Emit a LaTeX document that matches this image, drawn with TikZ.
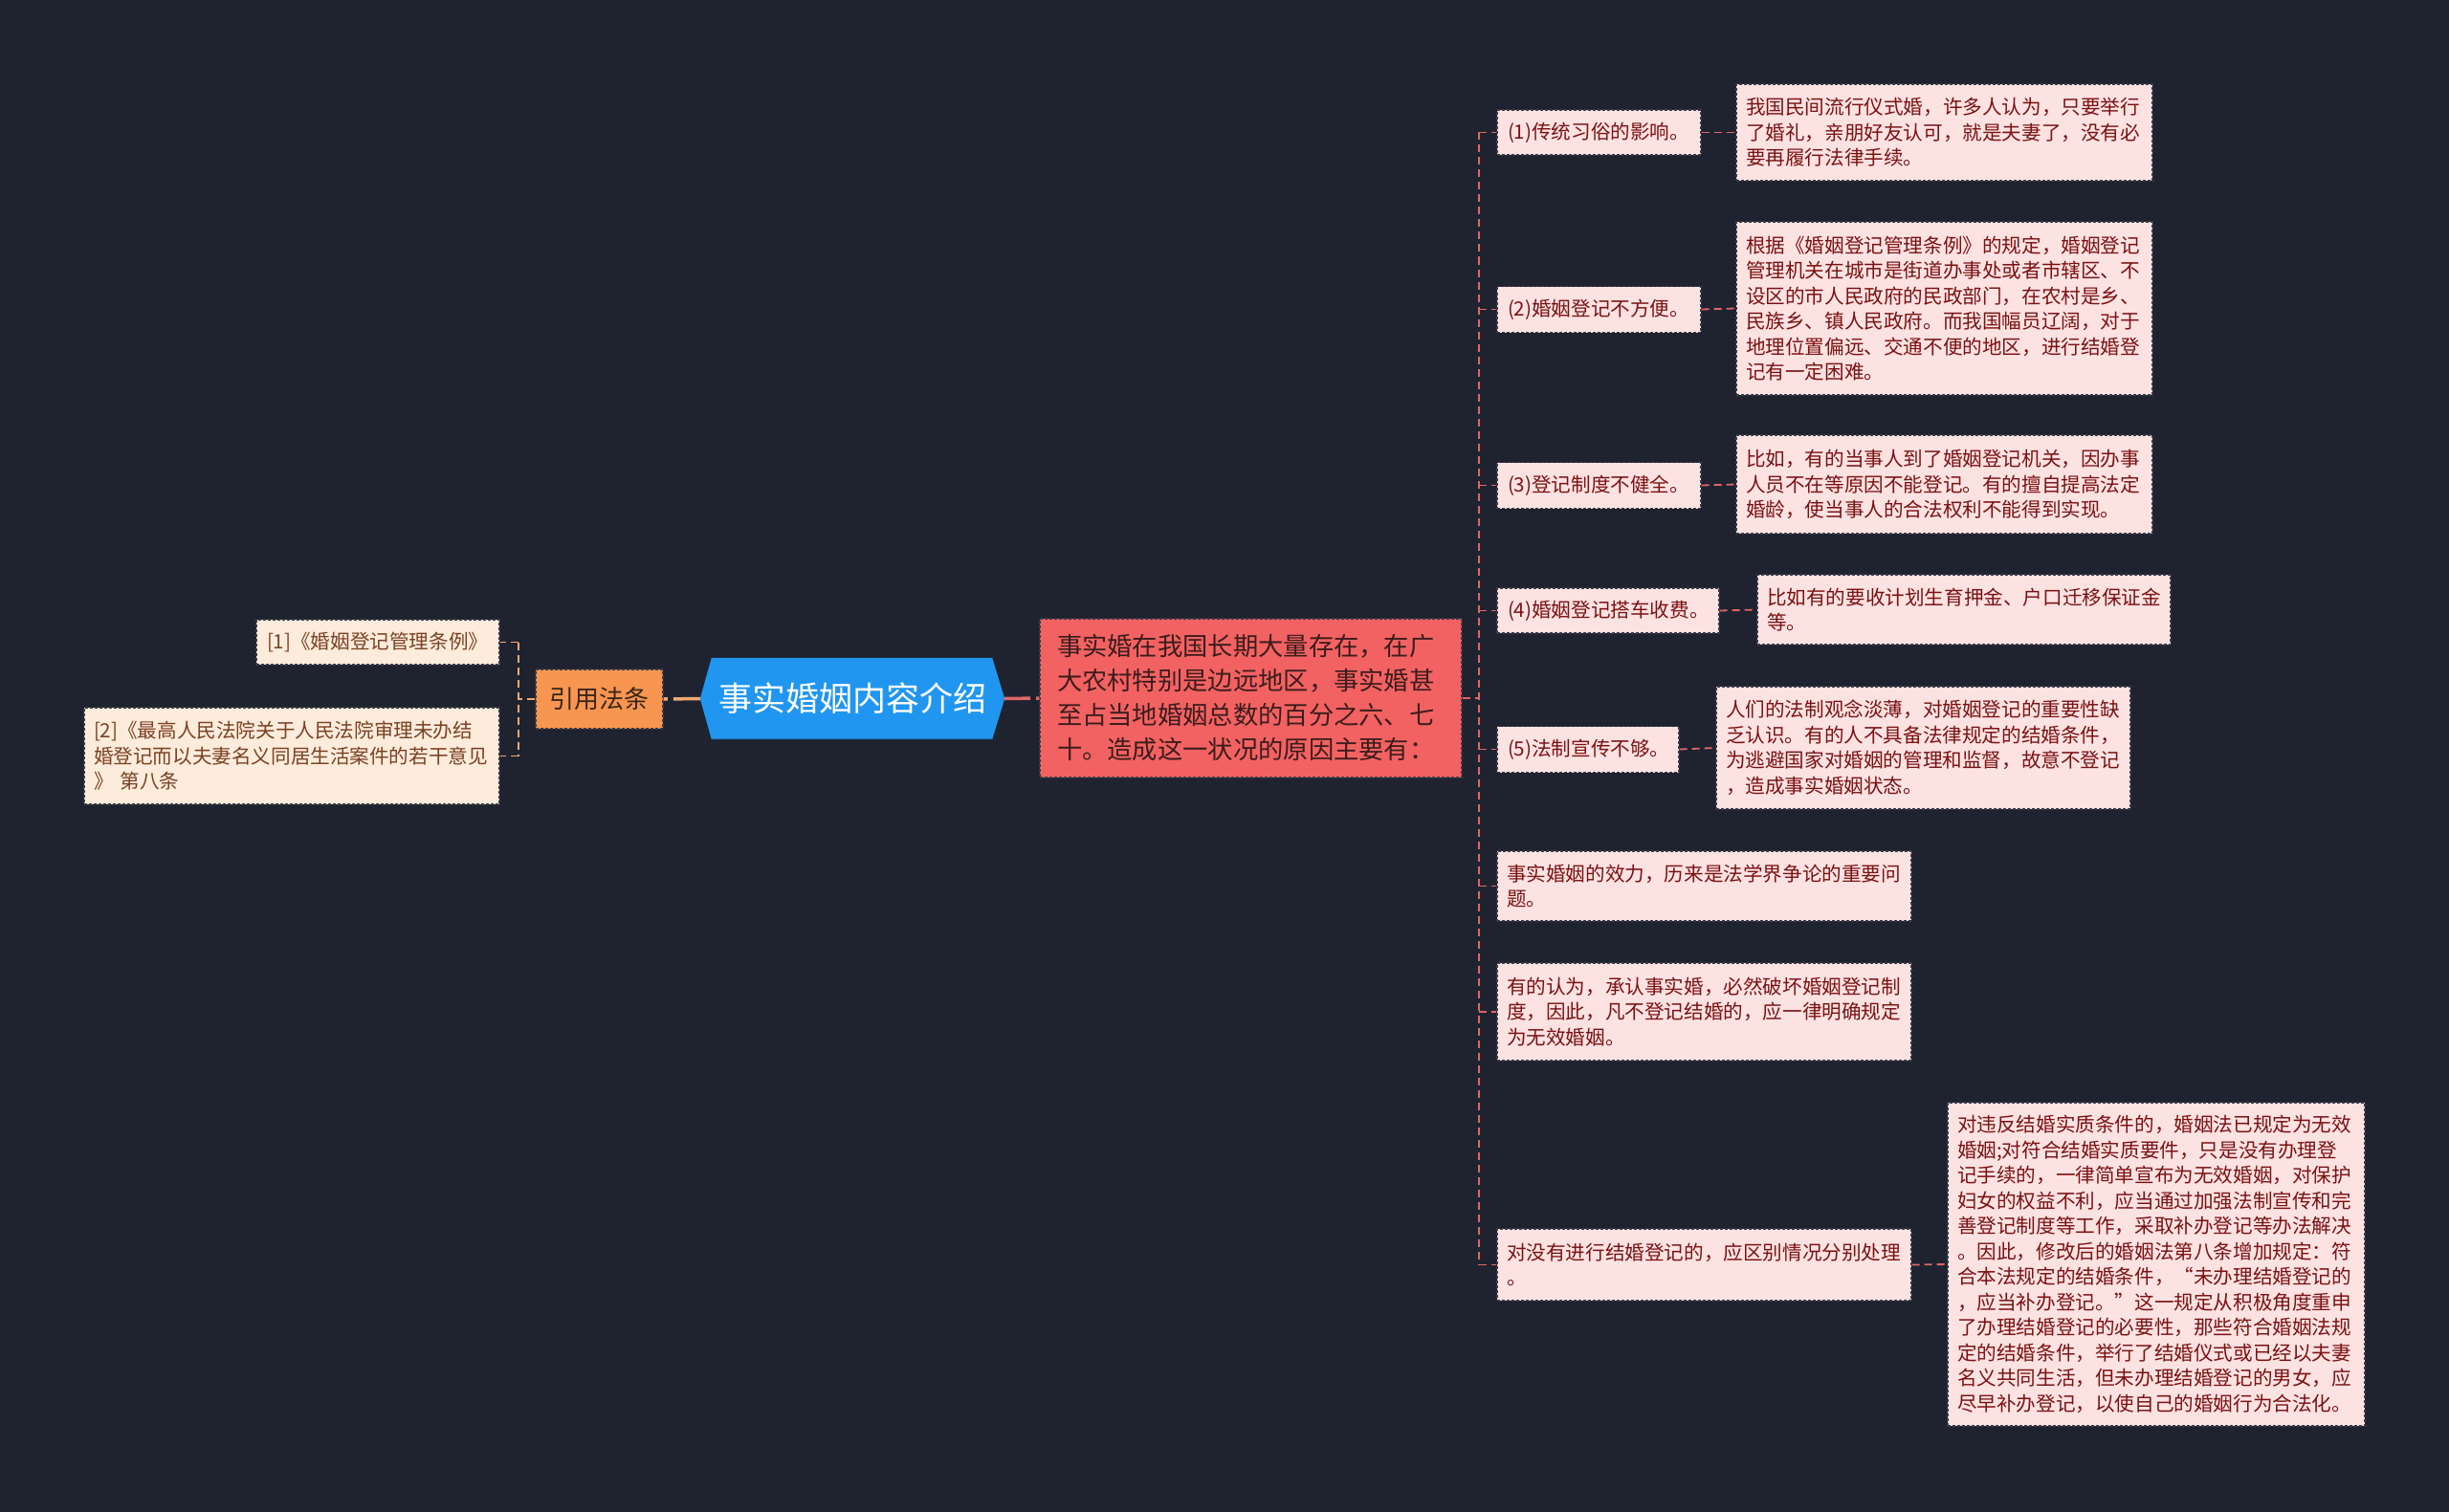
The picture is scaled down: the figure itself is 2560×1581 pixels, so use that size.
\documentclass[tikz,border=0pt]{standalone}
\usepackage{fontspec}
\setmainfont{Noto Sans CJK SC}
\usetikzlibrary{backgrounds,calc}
\definecolor{bg}{HTML}{1F2330}
\definecolor{hexblue}{HTML}{2196F0}
\definecolor{redbox}{HTML}{F26262}
\definecolor{redtext}{HTML}{3C1C1C}
\definecolor{pinkfill}{HTML}{FDE2E2}
\definecolor{pinktext}{HTML}{7A1212}
\definecolor{orangebox}{HTML}{F89550}
\definecolor{orangetext}{HTML}{3A2618}
\definecolor{peachfill}{HTML}{FDEBDC}
\definecolor{peachtext}{HTML}{7A4222}
\definecolor{rline}{HTML}{E06666}
\definecolor{lline}{HTML}{F0A870}
\definecolor{boxedge}{HTML}{3A3A46}
\newcommand\fsmallcn{\fontsize{20.6pt}{26.5pt}\selectfont}
\newcommand\fredcn{\fontsize{26.3pt}{36pt}\selectfont}
\begin{document}
\begin{tikzpicture}[x=1pt,y=1pt,
  box/.style={draw=boxedge, dash pattern=on 3pt off 2pt, line width=1.2pt, inner sep=0pt, align=left},
  pinkbox/.style={box, fill=pinkfill, text=pinktext, font=\fsmallcn},
  peachbox/.style={box, fill=peachfill, text=peachtext, font=\fsmallcn},
  rcon/.style={draw=rline, line width=1.8pt, dash pattern=on 8pt off 5pt},
  lcon/.style={draw=lline, line width=1.8pt, dash pattern=on 8pt off 5pt},
]
\begin{scope}[on background layer]
\fill[bg] (0,0) rectangle (2560,-1581);
\end{scope}
\useasboundingbox (0,0) rectangle (2560,-1581);

% centre
\node[inner sep=0pt, minimum width=318pt, minimum height=85pt, text=white, font=\fontsize{35pt}{40pt}\selectfont] (c) at (891,-730.5) {事实婚姻内容介绍};
\begin{scope}[on background layer]
\fill[hexblue] ($(c.north west)+(12,0)$) -- ($(c.north east)+(-13,0)$) -- (c.east) -- ($(c.south east)+(-13,0)$) -- ($(c.south west)+(12,0)$) -- (c.west) -- cycle;
\draw[line width=1.5pt, draw=hexblue!80!black] ($(c.south west)+(12,0.8)$) -- ($(c.south east)+(-13,0.8)$);
\end{scope}

% left part
\node[box, fill=orangebox, text=orangetext, minimum width=133pt, minimum height=62pt, font=\fontsize{26pt}{30pt}\selectfont, align=center] (yin) at (626.5,-731) {引用法条};
\node[peachbox, minimum width=254pt, minimum height=47pt, text width=232pt] (L1) at (395,-671.5) {[1]《婚姻登记管理条例》};
\node[peachbox, minimum width=434pt, minimum height=101pt, text width=414pt] (L2) at (305,-790.5) {[2]《最高人民法院关于人民法院审理未办结\\婚登记而以夫妻名义同居生活案件的若干意见\\》 第八条};

% red box
\node[box, fill=redbox, text=redtext, font=\fredcn, minimum width=441pt, minimum height=166pt, text width=405pt] (red) at (1307.5,-730) {事实婚在我国长期大量存在，在广\\大农村特别是边远地区，事实婚甚\\至占当地婚姻总数的百分之六、七\\十。造成这一状况的原因主要有：};

% right nodes
\node[pinkbox, minimum width=213pt, minimum height=47pt, text width=191pt] (n1) at (1671.5,-138.5) {(1)传统习俗的影响。};
\node[pinkbox, minimum width=213pt, minimum height=48pt, text width=191pt] (n2) at (1671.5,-323.5) {(2)婚姻登记不方便。};
\node[pinkbox, minimum width=213pt, minimum height=48pt, text width=191pt] (n3) at (1671.5,-507.5) {(3)登记制度不健全。};
\node[pinkbox, minimum width=232pt, minimum height=47pt, text width=210pt] (n4) at (1681,-638.5) {(4)婚姻登记搭车收费。};
\node[pinkbox, minimum width=190pt, minimum height=48pt, text width=168pt] (n5) at (1660,-783.5) {(5)法制宣传不够。};
\node[pinkbox, minimum width=433pt, minimum height=73pt, text width=413pt] (n6) at (1781.5,-926.5) {事实婚姻的效力，历来是法学界争论的重要问\\题。};
\node[pinkbox, minimum width=433pt, minimum height=102pt, text width=413pt] (n7) at (1781.5,-1058) {有的认为，承认事实婚，必然破坏婚姻登记制\\度，因此，凡不登记结婚的，应一律明确规定\\为无效婚姻。};
\node[pinkbox, minimum width=433pt, minimum height=75pt, text width=413pt] (n8) at (1781.5,-1322.5) {对没有进行结婚登记的，应区别情况分别处理\\。};

% right leaves
\node[pinkbox, minimum width=435pt, minimum height=101pt, text width=415pt] (l1) at (2032.5,-138.5) {我国民间流行仪式婚，许多人认为，只要举行\\了婚礼，亲朋好友认可，就是夫妻了，没有必\\要再履行法律手续。};
\node[pinkbox, minimum width=435pt, minimum height=181pt, text width=415pt] (l2) at (2032.5,-322.5) {根据《婚姻登记管理条例》的规定，婚姻登记\\管理机关在城市是街道办事处或者市辖区、不\\设区的市人民政府的民政部门，在农村是乡、\\民族乡、镇人民政府。而我国幅员辽阔，对于\\地理位置偏远、交通不便的地区，进行结婚登\\记有一定困难。};
\node[pinkbox, minimum width=435pt, minimum height=103pt, text width=415pt] (l3) at (2032.5,-506.5) {比如，有的当事人到了婚姻登记机关，因办事\\人员不在等原因不能登记。有的擅自提高法定\\婚龄，使当事人的合法权利不能得到实现。};
\node[pinkbox, minimum width=432pt, minimum height=73pt, text width=412pt] (l4) at (2053,-637.5) {比如有的要收计划生育押金、户口迁移保证金\\等。};
\node[pinkbox, minimum width=433pt, minimum height=128pt, text width=413pt] (l5) at (2010.5,-782) {人们的法制观念淡薄，对婚姻登记的重要性缺\\乏认识。有的人不具备法律规定的结婚条件，\\为逃避国家对婚姻的管理和监督，故意不登记\\，造成事实婚姻状态。};
\node[pinkbox, minimum width=436pt, minimum height=338pt, text width=416pt] (l8) at (2254,-1322) {对违反结婚实质条件的，婚姻法已规定为无效\\婚姻;对符合结婚实质要件，只是没有办理登\\记手续的，一律简单宣布为无效婚姻，对保护\\妇女的权益不利，应当通过加强法制宣传和完\\善登记制度等工作，采取补办登记等办法解决\\。因此，修改后的婚姻法第八条增加规定：符\\合本法规定的结婚条件，“未办理结婚登记的\\，应当补办登记。”这一规定从积极角度重申\\了办理结婚登记的必要性，那些符合婚姻法规\\定的结婚条件，举行了结婚仪式或已经以夫妻\\名义共同生活，但未办理结婚登记的男女，应\\尽早补办登记，以使自己的婚姻行为合法化。};

% connectors centre
\draw[draw=lline, line width=3.5pt, dash pattern=on 28pt off 6pt] (c.west) -- (yin.east);
\draw[draw=rline, line width=3.5pt, dash pattern=on 27pt off 6pt] (c.east) -- (red.west);

% left bracket
\coordinate (lb) at (542,-731);
\draw[lcon] (yin.west) -- (lb);
\draw[lcon] (lb |- L1.east) -- (lb |- L2.east);
\draw[lcon] (lb |- L1.east) -- (L1.east);
\draw[lcon] (lb |- L2.east) -- (L2.east);

% right spine
\coordinate (rs) at (1546,-730);
\draw[rcon] (red.east) -- (rs);
\draw[rcon] (rs |- n1.west) -- (rs |- n8.west);
\foreach \n in {n1,n2,n3,n4,n5,n6,n7,n8}{
  \draw[rcon] (rs |- \n.west) -- (\n.west);
}
\draw[rcon] (n1.east) -- (l1.west);
\draw[rcon] (n2.east) -- (l2.west);
\draw[rcon] (n3.east) -- (l3.west);
\draw[rcon] (n4.east) -- (l4.west);
\draw[rcon] (n5.east) -- (l5.west);
\draw[rcon] (n8.east) -- (l8.west);
\end{tikzpicture}
\end{document}
